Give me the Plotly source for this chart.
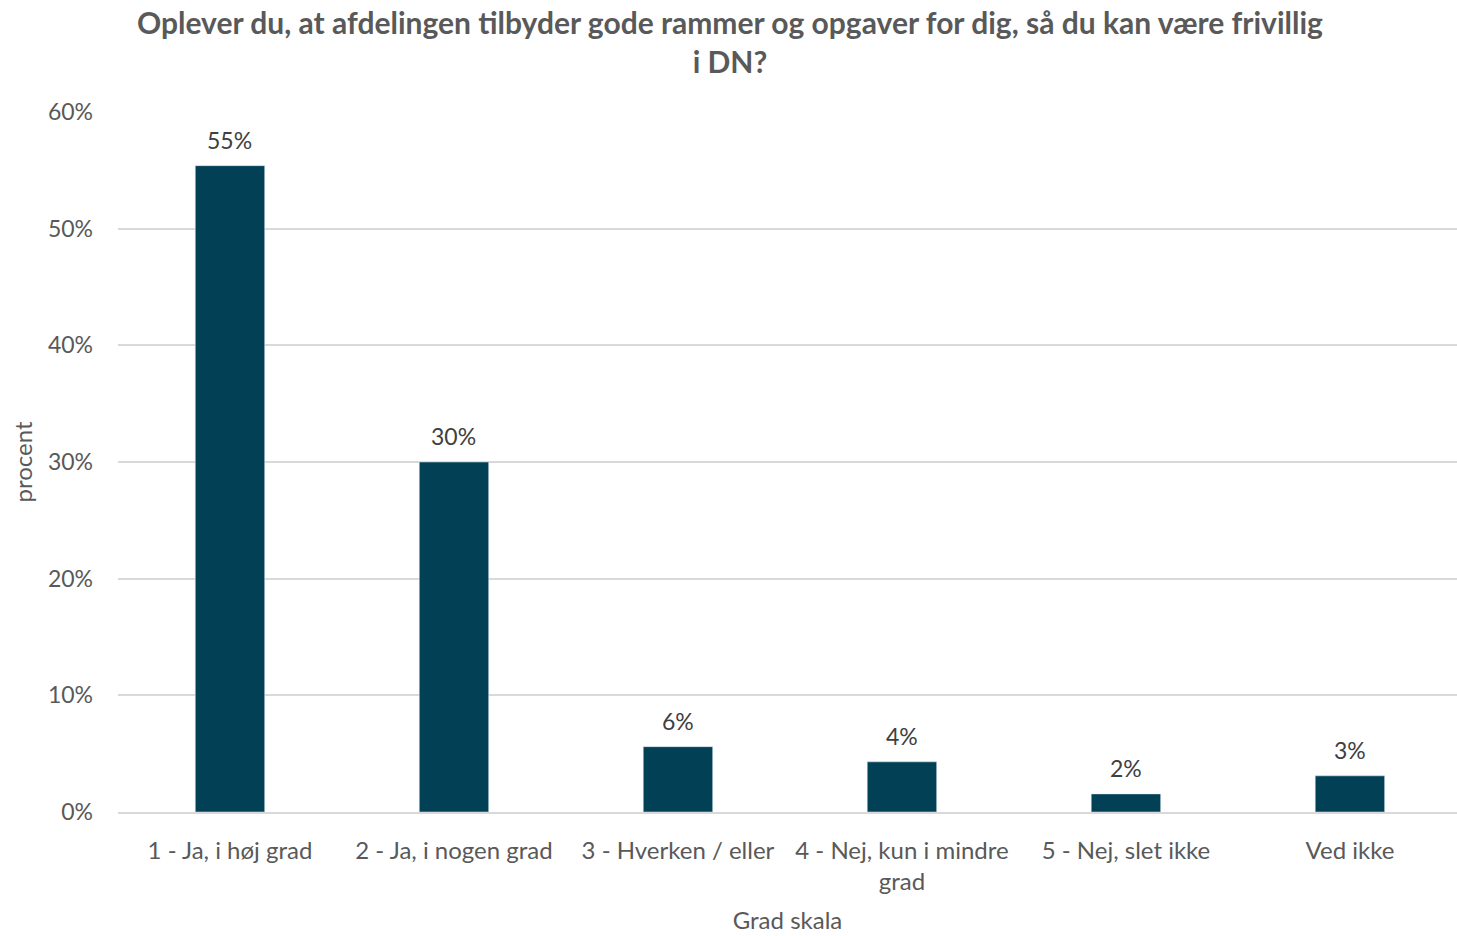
import plotly.graph_objects as go

# survey answers
categories = [
    "1 - Ja, i høj grad",
    "2 - Ja, i nogen grad",
    "3 - Hverken / eller",
    "4 - Nej, kun i mindre<br>grad",
    "5 - Nej, slet ikke",
    "Ved ikke",
]
shares = [0.554, 0.300, 0.056, 0.043, 0.0155, 0.031]

title_text = ("Oplever du, at afdelingen tilbyder gode rammer og opgaver for dig, så du kan være frivillig"
              "<br>i DN?")

fig = go.Figure()
fig.add_trace(go.Bar(
    x=categories, y=shares,
    marker_color="#014055",
    hoverinfo="x+y",
))

# value labels, a bit above each bar
for c, v in zip(categories, shares):
    fig.add_annotation(x=c, y=v, text=f"{round(v * 100)}%", showarrow=False,
                       yanchor="middle", yshift=26,
                       font=dict(size=23, color="#404040"))

# title as annotation so both lines stay on the page
fig.add_annotation(xref="paper", yref="paper", x=0.457, y=1, yshift=31,
                   xanchor="center", yanchor="bottom", showarrow=False,
                   text="<b>" + title_text + "</b>",
                   font=dict(size=30, color="#595959"))

fig.update_layout(
    width=1457, height=936,
    paper_bgcolor="white", plot_bgcolor="white",
    font=dict(family="Lato, Open Sans, sans-serif", color="#595959"),
    margin=dict(l=118, r=0, t=112, b=124, autoexpand=False),
    bargap=0.69,
    showlegend=False,
)
fig.update_yaxes(
    range=[0, 0.6], dtick=0.1, tickformat=".0%", automargin=False,
    gridcolor="#d9d9d9", gridwidth=2, zeroline=False,
    tickfont=dict(size=23, color="#595959"), ticklabelstandoff=24,
    title=dict(text="procent", font=dict(size=24, color="#595959"), standoff=8),
)
fig.update_xaxes(
    range=[-0.5, 5.478],
    showline=True, linecolor="#d9d9d9", linewidth=2, automargin=False,
    tickfont=dict(size=24, color="#595959"), ticklabelstandoff=16,
    title=dict(text="Grad skala", font=dict(size=24, color="#595959"), standoff=18),
)

# drop the browser's default body margin so the figure sits at the page corner
fig.write_html("out.html", config={"displayModeBar": False},
               post_script="document.body.style.margin='0px';")
